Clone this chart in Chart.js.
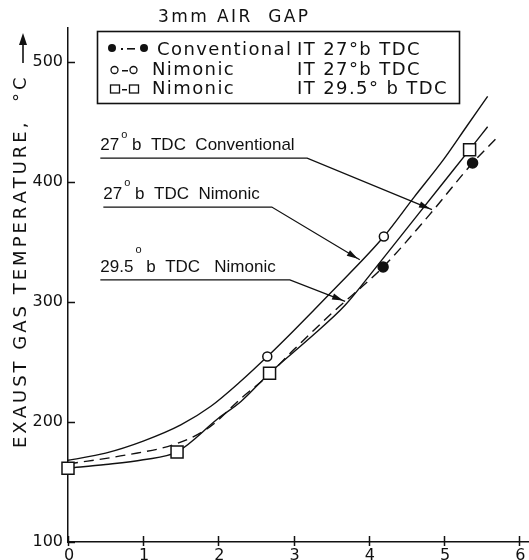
<!DOCTYPE html>
<html>
<head>
<meta charset="utf-8">
<script src="https://cdn.jsdelivr.net/npm/chart.js@4.4.1/dist/chart.umd.min.js"></script>
<style>
  html, body { margin: 0; padding: 0; background: #fff; }
  #wrap { width: 529px; height: 560px; }
</style>
</head>
<body>
<div id="wrap"><canvas id="chart" width="529" height="560"></canvas></div>
<script>
// axis ticks and ranges
const xTicks = [0, 1, 2, 3, 4, 5, 6]
const yTicks = [100, 200, 300, 400, 500]
const xRange = [0, 6.13]
const yRange = [100, 528]

// fitted curves
const nim27CurveX = [0, 0.5, 1, 1.5, 1.9, 2.3, 2.65, 3, 3.5, 4.2, 4.6, 5, 5.3, 5.58]
const nim27CurveY = [168, 174, 184, 197.5, 213, 234, 254.4, 276, 308, 354.4, 387, 419, 446, 471]
const nim295CurveX = [0, 0.5, 1, 1.45, 2, 2.3, 2.68, 3.2, 3.69, 4.09, 4.51, 5, 5.34, 5.58]
const nim295CurveY = [161.5, 164.5, 168.5, 175, 203, 217, 240.6, 269, 297.5, 328.3, 361.4, 400, 426.7, 445.8]
const convCurveX = [0, 0.78, 1.45, 1.89, 2.29, 2.65, 3, 3.5, 4.19, 4.8, 5.38, 5.71]
const convCurveY = [165, 172.5, 182, 196, 219, 238, 260, 290, 329, 372, 415.6, 437]

// measured points
const convMarkX = [4.19, 5.38]
const convMarkY = [329, 415.6]
const nim27MarkX = [2.65, 4.2]
const nim27MarkY = [254.4, 354.4]
const nim295MarkX = [0, 1.45, 2.68, 5.34]
const nim295MarkY = [161.5, 175, 240.6, 426.7]

// callout labels: underline start/end and arrow tip, in data units
const annoDeg = ["27", "27", "29.5"]
const annoName = ["Conventional", "Nimonic", "Nimonic"]
const annoLineX0 = [0.43, 0.47, 0.43]
const annoLineX1 = [3.18, 2.71, 2.95]
const annoLineY = [419.7, 378.9, 318.3]
const annoTipX = [4.84, 3.88, 3.685]
const annoTipY = [376.7, 335, 300.3]

const legendNames = ["Conventional", "Nimonic", "Nimonic"]
const legendTiming = ["IT 27°b TDC", "IT 27°b TDC", "IT 29.5° b TDC"]

const ink = "#111"
const pts = (xs, ys) => xs.map((x, i) => ({ x: x, y: ys[i] }))

function spaced(ctx, text, x, y, gap) {
  for (const ch of text) {
    ctx.fillText(ch, x, y)
    x += ctx.measureText(ch).width + gap
  }
  return x
}

function arrowHead(ctx, fx, fy, tx, ty, len, half) {
  const a = Math.atan2(ty - fy, tx - fx)
  ctx.beginPath()
  ctx.moveTo(tx, ty)
  ctx.lineTo(tx - len * Math.cos(a) + half * Math.sin(a), ty - len * Math.sin(a) - half * Math.cos(a))
  ctx.lineTo(tx - len * Math.cos(a) - half * Math.sin(a), ty - len * Math.sin(a) + half * Math.cos(a))
  ctx.closePath()
  ctx.fill()
}

const decor = {
  id: "decor",
  afterDraw(chart) {
    const { ctx, scales: { x, y } } = chart
    ctx.save()
    ctx.strokeStyle = ink
    ctx.fillStyle = ink
    ctx.textAlign = "left"
    ctx.textBaseline = "alphabetic"

    // tick marks (inside for y, crossing for x)
    ctx.lineWidth = 1.5
    ctx.beginPath()
    yTicks.forEach(v => {
      const py = Math.round(y.getPixelForValue(v)) + 0.5
      ctx.moveTo(x.left, py); ctx.lineTo(x.left + 7, py)
    })
    xTicks.forEach(v => {
      const px = Math.round(x.getPixelForValue(v)) + 0.5
      ctx.moveTo(px, y.bottom - 6); ctx.lineTo(px, y.bottom + 4)
    })
    ctx.stroke()

    // x tick labels (cut by the bottom edge, as in the scan)
    ctx.font = "16px 'DejaVu Sans'"
    ctx.textAlign = "center"
    xTicks.forEach(v => ctx.fillText(String(v), x.getPixelForValue(v) + 1, y.bottom + 18))
    ctx.textAlign = "left"

    // title
    ctx.font = "17px 'DejaVu Sans'"
    spaced(ctx, "3mm AIR  GAP", 158, 22, 2.4)

    // y axis title, bottom to top
    ctx.save()
    ctx.translate(26, 448)
    ctx.rotate(-Math.PI / 2)
    ctx.font = "18px 'DejaVu Sans'"
    spaced(ctx, "EXAUST GAS TEMPERATURE,  °C", 0, 0, 3)
    ctx.restore()
    ctx.lineWidth = 1.6
    ctx.beginPath(); ctx.moveTo(23, 63); ctx.lineTo(23, 42); ctx.stroke()
    arrowHead(ctx, 23, 63, 23, 33, 12, 4)

    // legend box
    ctx.lineWidth = 1.6
    ctx.strokeRect(97.5, 31.5, 362, 72)
    ctx.font = "18px 'DejaVu Sans'"
    const rowBase = [55, 75, 94]
    const rowMid = [48, 70, 89]
    legendNames.forEach((n, i) => {
      spaced(ctx, n, i === 0 ? 157 : 152, rowBase[i], 1.4)
      spaced(ctx, legendTiming[i], 297, rowBase[i], 1.4)
    })
    ctx.lineWidth = 1.3
    // row 1: filled dots, dash-dot
    ctx.beginPath(); ctx.arc(112, rowMid[0], 4, 0, Math.PI * 2); ctx.fill()
    ctx.beginPath(); ctx.arc(144, rowMid[0], 4, 0, Math.PI * 2); ctx.fill()
    ctx.fillRect(121, rowMid[0], 2, 2)
    ctx.fillRect(127, rowMid[0], 8, 1.6)
    // row 2: open circles
    ctx.beginPath(); ctx.arc(114.5, rowMid[1], 3.5, 0, Math.PI * 2); ctx.stroke()
    ctx.beginPath(); ctx.arc(133.5, rowMid[1], 3.5, 0, Math.PI * 2); ctx.stroke()
    ctx.fillRect(122, rowMid[1], 6, 1.5)
    // row 3: squares
    ctx.strokeRect(110.5, rowMid[2] - 4, 9, 8)
    ctx.strokeRect(129.5, rowMid[2] - 4, 9, 8)
    ctx.fillRect(122, rowMid[2], 5, 1.5)

    // callouts
    const rise = [18, 19, 25]
    annoDeg.forEach((deg, i) => {
      const x0 = x.getPixelForValue(annoLineX0[i])
      const x1 = x.getPixelForValue(annoLineX1[i])
      const ly = y.getPixelForValue(annoLineY[i])
      const tx = x.getPixelForValue(annoTipX[i])
      const ty = y.getPixelForValue(annoTipY[i])
      ctx.font = "17px 'Liberation Sans'"
      let cx = ctx.measureText(deg).width + x0
      ctx.fillText(deg, x0, ly - 8)
      ctx.font = "11px 'Liberation Sans'"
      ctx.fillText("o", cx + 2, ly - 8 - rise[i] + 6)
      cx += 2 + ctx.measureText("o").width
      ctx.font = "17px 'Liberation Sans'"
      ctx.fillText(" b  TDC  " + (i === 2 ? " " : "") + annoName[i], cx, ly - 8)
      ctx.lineWidth = 1.3
      ctx.beginPath()
      ctx.moveTo(x0, ly); ctx.lineTo(x1, ly); ctx.lineTo(tx, ty)
      ctx.stroke()
      arrowHead(ctx, x1, ly, tx - 2, ty - 1, 11, 3.2)
    })
    ctx.restore()
  }
}

const curve = (xs, ys, dash) => ({
  type: "scatter",
  data: pts(xs, ys),
  showLine: true,
  borderColor: ink,
  borderWidth: 1.4,
  borderDash: dash,
  pointRadius: 0,
  cubicInterpolationMode: "monotone",
  fill: false
})

const marks = (xs, ys, style, r, fill) => ({
  type: "scatter",
  data: pts(xs, ys),
  showLine: false,
  clip: 12,
  pointStyle: style,
  pointRadius: r,
  pointBackgroundColor: fill,
  pointBorderColor: ink,
  pointBorderWidth: 1.5
})

new Chart(document.getElementById("chart"), {
  type: "scatter",
  data: {
    datasets: [
      marks(nim295MarkX, nim295MarkY, "rect", 8.5, "#fff"),
      marks(nim27MarkX, nim27MarkY, "circle", 4.5, "#fff"),
      marks(convMarkX, convMarkY, "circle", 5, ink),
      curve(nim27CurveX, nim27CurveY, []),
      curve(nim295CurveX, nim295CurveY, []),
      curve(convCurveX, convCurveY, [10, 6])
    ]
  },
  options: {
    responsive: false,
    animation: false,
    layout: { autoPadding: false, padding: { top: 28, right: 0, left: 0, bottom: 0 } },
    plugins: { legend: { display: false }, tooltip: { enabled: false } },
    scales: {
      x: {
        type: "linear",
        min: xRange[0],
        max: xRange[1],
        afterFit: s => { s.height = 18; s.paddingLeft = 0; s.paddingRight = 0 },
        afterBuildTicks: s => { s.ticks = xTicks.map(v => ({ value: v })) },
        grid: { display: false, drawTicks: false },
        border: { display: true, color: ink, width: 1.5 },
        ticks: { display: false }
      },
      y: {
        type: "linear",
        min: yRange[0],
        max: yRange[1],
        afterFit: s => { s.width = 68 },
        afterBuildTicks: s => { s.ticks = yTicks.map(v => ({ value: v })) },
        grid: { display: false, drawTicks: false },
        border: { display: true, color: ink, width: 1.5 },
        ticks: { color: ink, font: { family: "DejaVu Sans", size: 16 }, padding: 5, autoSkip: false }
      }
    }
  },
  plugins: [decor]
})
</script>
</body>
</html>
